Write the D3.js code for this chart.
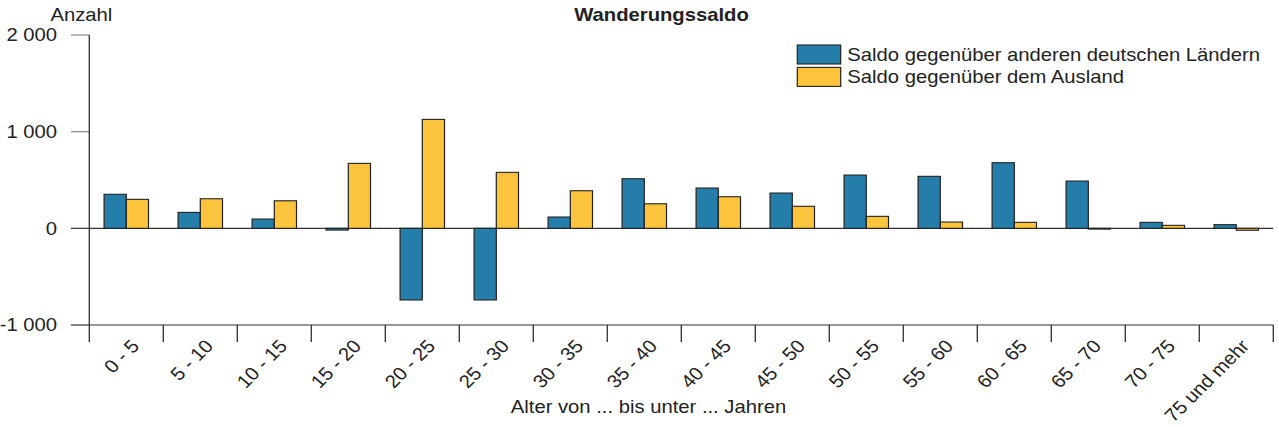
<!DOCTYPE html>
<html lang="de">
<head>
<meta charset="utf-8">
<title>Wanderungssaldo</title>
<script src="https://cdn.jsdelivr.net/npm/d3@7"></script>
<style>
  html, body { margin: 0; padding: 0; background: #fff; }
  svg { display: block; }
  text { font-family: "Liberation Sans", Arial, sans-serif; fill: #222; }
</style>
</head>
<body>
<div class="container"></div>
<script>
// Data
const categories = ['0 - 5', '5 - 10', '10 - 15', '15 - 20', '20 - 25', '25 - 30', '30 - 35', '35 - 40',
  '40 - 45', '45 - 50', '50 - 55', '55 - 60', '60 - 65', '65 - 70', '70 - 75', '75 und mehr'];
const seriesNames = ['Saldo gegenüber anderen deutschen Ländern', 'Saldo gegenüber dem Ausland'];
const saldoLaender = [352, 165, 96, -18, -741, -741, 117, 513, 417, 365, 551, 538, 679, 489, 62, 38];
const saldoAusland = [300, 306, 285, 672, 1127, 579, 389, 254, 327, 228, 124, 65, 62, -8, 31, -20];
const yTicks = [-1000, 0, 1000, 2000];

const drawChart = () => {
  // Constants
  const width = 1279;
  const height = 427;
  const stretch = 1.1; // original is a bit wider than high
  const px = (v) => v / stretch;
  const colors = ['#257ea9', '#fcc43c'];
  const fontSize = 18.4;

  const svg = d3
    .select('.container')
    .append('svg')
    .attr('width', width)
    .attr('height', height)
    .attr('viewBox', `0 0 ${width / stretch} ${height}`)
    .attr('preserveAspectRatio', 'none');

  // Scales
  const x0 = d3.scaleBand().domain(categories).range([px(89.3), px(1273.3)]);
  const x1 = d3
    .scaleBand()
    .domain(seriesNames)
    .range([x0.bandwidth() * 0.2, x0.bandwidth() * 0.8]);
  const y = d3.scaleLinear().domain([-1000, 2000]).range([325, 35]);

  // Y axis ticks + labels
  svg
    .selectAll('.ytick')
    .data(yTicks)
    .enter()
    .append('line')
    .attr('class', 'ytick')
    .attr('x1', px(71))
    .attr('x2', px(89.3))
    .attr('y1', (d) => y(d))
    .attr('y2', (d) => y(d))
    .attr('stroke', (d) => (d > 0 ? '#888' : '#333'))
    .attr('stroke-width', 1.2);

  svg
    .selectAll('.ylabel')
    .data(yTicks)
    .enter()
    .append('text')
    .attr('class', 'ylabel')
    .attr('x', px(57))
    .attr('y', (d) => y(d))
    .attr('dy', '0.35em')
    .attr('text-anchor', 'end')
    .style('font-size', fontSize + 'px')
    .text((d) => d3.format(',')(d).replace(/,/g, ' ').replace('−', '-'));

  // Zero line and bottom line
  svg
    .append('line')
    .attr('x1', px(89.3))
    .attr('x2', px(1273.3))
    .attr('y1', y(0))
    .attr('y2', y(0))
    .attr('stroke', '#333')
    .attr('stroke-width', 1.2);

  svg
    .append('line')
    .attr('x1', px(89.3))
    .attr('x2', px(1273.3))
    .attr('y1', y(-1000))
    .attr('y2', y(-1000))
    .attr('stroke', '#333')
    .attr('stroke-width', 1.2);

  // Y axis line
  svg
    .append('line')
    .attr('x1', px(89.3))
    .attr('x2', px(89.3))
    .attr('y1', y(2000))
    .attr('y2', 342)
    .attr('stroke', '#333')
    .attr('stroke-width', 1.2);

  // X ticks at category boundaries
  const bounds = categories.map((c) => x0(c)).concat([x0.range()[1]]);
  svg
    .selectAll('.xtick')
    .data(bounds.slice(1))
    .enter()
    .append('line')
    .attr('class', 'xtick')
    .attr('x1', (d) => d)
    .attr('x2', (d) => d)
    .attr('y1', y(-1000))
    .attr('y2', 342)
    .attr('stroke', '#333')
    .attr('stroke-width', 1.2);

  // Bars
  const rows = categories.map((c, i) => ({
    category: c,
    values: [
      { name: seriesNames[0], value: saldoLaender[i] },
      { name: seriesNames[1], value: saldoAusland[i] },
    ],
  }));

  const group = svg
    .selectAll('.group')
    .data(rows)
    .enter()
    .append('g')
    .attr('class', 'group')
    .attr('transform', (d) => `translate(${x0(d.category)},0)`);

  group
    .selectAll('rect')
    .data((d) => d.values)
    .enter()
    .append('rect')
    .attr('x', (d) => x1(d.name))
    .attr('y', (d) => y(Math.max(0, d.value)))
    .attr('width', x1.bandwidth())
    .attr('height', (d) => Math.abs(y(d.value) - y(0)))
    .attr('fill', (d, i) => colors[i])
    .attr('stroke', '#222')
    .attr('stroke-width', 1.1);

  // X labels, rotated (~45deg on screen after the stretch)
  svg
    .selectAll('.xlabel')
    .data(categories)
    .enter()
    .append('text')
    .attr('class', 'xlabel')
    .attr('text-anchor', 'end')
    .style('font-size', fontSize + 'px')
    .attr('transform', (d) => `translate(${x0(d) + x0.bandwidth() / 2 + px(14)},347) rotate(-47.5)`)
    .text((d) => d);

  // Titles
  svg
    .append('text')
    .attr('x', px(661.5))
    .attr('y', 21)
    .attr('text-anchor', 'middle')
    .style('font-size', fontSize + 'px')
    .style('font-weight', 'bold')
    .text('Wanderungssaldo');

  svg
    .append('text')
    .attr('x', px(112.3))
    .attr('y', 21)
    .attr('text-anchor', 'end')
    .style('font-size', fontSize + 'px')
    .text('Anzahl');

  svg
    .append('text')
    .attr('x', px(648.5))
    .attr('y', 413)
    .attr('text-anchor', 'middle')
    .style('font-size', fontSize + 'px')
    .text('Alter von ... bis unter ... Jahren');

  // Legend
  const legend = svg
    .selectAll('.legend')
    .data(seriesNames)
    .enter()
    .append('g')
    .attr('class', 'legend')
    .attr('transform', (d, i) => `translate(${px(797.3)},${45 + i * 22.4})`);

  legend
    .append('rect')
    .attr('width', px(43.4))
    .attr('height', 19)
    .attr('fill', (d, i) => colors[i])
    .attr('stroke', '#222')
    .attr('stroke-width', 1.1);

  legend
    .append('text')
    .attr('x', px(50))
    .attr('y', 15.5)
    .style('font-size', fontSize + 'px')
    .text((d) => d);
};

drawChart();
</script>
</body>
</html>
